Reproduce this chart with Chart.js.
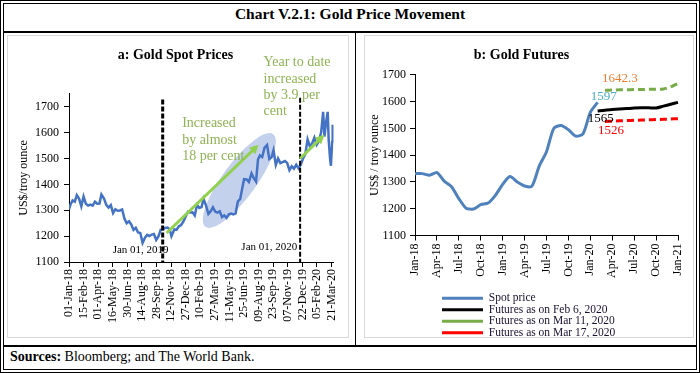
<!DOCTYPE html>
<html>
<head>
<meta charset="utf-8">
<script src="https://cdn.jsdelivr.net/npm/chart.js@4.4.0/dist/chart.umd.min.js"></script>
<style>
  html, body { margin: 0; padding: 0; background: #fff; overflow: hidden; }
  #page { position: relative; width: 700px; height: 373px; font-family: 'Liberation Serif', 'Times New Roman', serif; }
  .abs { position: absolute; }
  #frame { left: 0; top: 0; width: 700px; height: 373px; box-sizing: border-box; border: 4px double #000; }
  #title { left: 0; top: 5px; width: 700px; text-align: center; font-weight: bold; font-size: 15.5px; }
  .hline { height: 2px; background: #000; }
  .panel { border: 1.5px solid #d9d9d9; box-sizing: border-box; }
  #sources { left: 10px; top: 349px; font-size: 14px; }
</style>
</head>
<body>
<div id="page">
  <div id="frame" class="abs"></div>
  <div id="title" class="abs">Chart V.2.1: Gold Price Movement</div>
  <div class="abs hline" style="left:3px; top:31px; width:694px;"></div>
  <div class="abs" style="left:355px; top:32px; width:1px; height:314px; background:#000;"></div>
  <div class="abs hline" style="left:3px; top:345px; width:694px;"></div>
  <div class="abs panel" style="left:7px; top:35px; width:342px; height:303px;"></div>
  <div class="abs panel" style="left:364px; top:35px; width:330px; height:303px;"></div>
  <div class="abs" style="left:8px; top:36px; width:340px; height:301px;"><canvas id="spotChart"></canvas></div>
  <div class="abs" style="left:365px; top:36px; width:346px; height:312px;"><canvas id="futChart"></canvas></div>
  <div id="sources" class="abs"><b>Sources:</b> Bloomberg; and The World Bank.</div>
</div>

<script>
// ---- panel a: gold spot prices (US$/troy ounce) ----
const spotDates = [
  '2018-01-01','2018-01-05','2018-01-12','2018-01-19','2018-01-25','2018-02-01','2018-02-08','2018-02-15',
  '2018-02-22','2018-03-01','2018-03-08','2018-03-15','2018-03-22','2018-03-29','2018-04-05','2018-04-11',
  '2018-04-19','2018-04-26','2018-05-03','2018-05-10','2018-05-17','2018-05-24','2018-05-31','2018-06-07',
  '2018-06-14','2018-06-21','2018-06-28','2018-07-05','2018-07-12','2018-07-19','2018-07-26','2018-08-02',
  '2018-08-09','2018-08-16','2018-08-23','2018-08-30','2018-09-06','2018-09-13','2018-09-20','2018-09-27',
  '2018-10-04','2018-10-11','2018-10-18','2018-10-25','2018-11-01','2018-11-08','2018-11-13','2018-11-22',
  '2018-11-29','2018-12-06','2018-12-13','2018-12-20','2018-12-27',
  '2019-01-03','2019-01-10','2019-01-17','2019-01-24','2019-01-31','2019-02-07','2019-02-14','2019-02-20',
  '2019-02-28','2019-03-07','2019-03-14','2019-03-21','2019-03-28','2019-04-04','2019-04-11','2019-04-18',
  '2019-04-25','2019-05-02','2019-05-09','2019-05-16','2019-05-23','2019-05-30','2019-06-06','2019-06-13',
  '2019-06-20','2019-06-25','2019-07-03','2019-07-10','2019-07-18','2019-07-25','2019-08-01','2019-08-07',
  '2019-08-13','2019-08-20','2019-08-27','2019-09-04','2019-09-11','2019-09-18','2019-09-24','2019-10-01',
  '2019-10-08','2019-10-15','2019-10-22','2019-10-29','2019-11-05','2019-11-12','2019-11-19','2019-11-26',
  '2019-12-03','2019-12-10','2019-12-17','2019-12-24','2019-12-31',
  '2020-01-07','2020-01-14','2020-01-21','2020-01-28','2020-02-04','2020-02-11','2020-02-18','2020-02-24',
  '2020-02-28','2020-03-04','2020-03-09','2020-03-12','2020-03-16','2020-03-19','2020-03-20','2020-03-23',
  '2020-03-24','2020-03-25'
];
const spotPrices = [
  1303,1320,1338,1333,1358,1345,1315,1353,
  1325,1318,1322,1318,1333,1325,1326,1361,
  1345,1321,1310,1320,1289,1304,1298,1299,
  1303,1268,1250,1257,1245,1224,1232,1214,
  1212,1174,1193,1205,1200,1206,1208,1185,
  1199,1225,1226,1232,1233,1225,1200,1226,
  1225,1238,1243,1257,1276,
  1294,1291,1292,1280,1321,1309,1312,1344,
  1317,1286,1296,1311,1295,1291,1296,1274,
  1280,1270,1284,1287,1284,1288,1334,1343,
  1388,1420,1419,1409,1442,1424,1411,1496,
  1512,1506,1541,1552,1498,1505,1532,1475,
  1500,1482,1486,1490,1483,1455,1470,1461,
  1476,1462,1476,1500,1517,
  1574,1547,1558,1581,1553,1567,1602,1680,
  1585,1640,1680,1575,1505,1472,1497,1565,
  1630,1610
];
const spotTicks = [1100, 1200, 1300, 1400, 1500, 1600, 1700];
const dateTickStep = 45;   // days between date labels, first one 01-Jan-18
const dateTickCount = 19;

// ---- panel b: monthly spot and futures curves ----
const months = [
  'Jan-18','Feb-18','Mar-18','Apr-18','May-18','Jun-18','Jul-18','Aug-18','Sep-18','Oct-18','Nov-18','Dec-18',
  'Jan-19','Feb-19','Mar-19','Apr-19','May-19','Jun-19','Jul-19','Aug-19','Sep-19','Oct-19','Nov-19','Dec-19',
  'Jan-20','Feb-20','Mar-20','Apr-20','May-20','Jun-20','Jul-20','Aug-20','Sep-20','Oct-20','Nov-20','Dec-20',
  'Jan-21'
];
const spotMonthly = [1331,1331,1325,1335,1303,1282,1238,1202,1199,1215,1221,1250,
                     1291,1320,1300,1285,1284,1359,1413,1500,1511,1495,1471,1480,
                     1560,1597];
const futuresFeb6 = [1565,1568,1570,1572,1574,1576,1577,1577,1576,1583,1590,1597];   // Feb-20 .. Jan-21
const futuresMar11 = [1642.3,1643,1644,1644,1645,1645,1646,1646,1647,1655,1668];     // Mar-20 .. Jan-21
const futuresMar17 = [1526,1527,1528,1529,1530,1531,1532,1533,1534,1535,1536];       // Mar-20 .. Jan-21

const serif = "'Liberation Serif', 'Times New Roman', serif";
const monNames = ['Jan','Feb','Mar','Apr','May','Jun','Jul','Aug','Sep','Oct','Nov','Dec'];
const day0 = Date.parse('2018-01-01');
const dayOf = s => (Date.parse(s) - day0) / 864e5;

function dayLabel(v) {
  const d = new Date(day0 + v * 864e5);
  const dd = String(d.getUTCDate()).padStart(2, '0');
  return dd + '-' + monNames[d.getUTCMonth()] + '-' + String(d.getUTCFullYear()).slice(2);
}

// annotation shapes for panel a, in (day, price) units
const ellipseEnds = [[421, 1236], [630, 1594]];
const arrows = [[[301, 1212], [585, 1553]], [[713, 1500], [788, 1592]]];
const markers = [
  { day: 289, top: 1728, width: 3, dash: [5, 2] },
  { day: 713, top: 1735, width: 2, dash: [5, 2] }
];
const greenNotes = [
  { day: 349, price: 1635, lines: ['Increased', 'by almost', '18 per cent'] },
  { day: 600, price: 1871, lines: ['Year to date', 'increased', 'by 3.9 per', 'cent'] }
];
const dateNotes = [
  { day: 221, price: 1146, text: 'Jan 01, 2019' },
  { day: 618, price: 1159, text: 'Jan 01, 2020' }
];

const spotAnnotations = {
  id: 'spotAnnotations',
  beforeDatasetsDraw(chart) {
    const { ctx, scales: { x, y } } = chart;
    const [a, b] = ellipseEnds.map(p => [x.getPixelForValue(p[0]), y.getPixelForValue(p[1])]);
    ctx.save();
    ctx.translate((a[0] + b[0]) / 2, (a[1] + b[1]) / 2);
    ctx.rotate(Math.atan2(b[1] - a[1], b[0] - a[0]));
    ctx.beginPath();
    ctx.ellipse(0, 0, Math.hypot(b[0] - a[0], b[1] - a[1]) / 2, 17, 0, 0, Math.PI * 2);
    ctx.fillStyle = 'rgba(186,201,233,0.85)';
    ctx.fill();
    ctx.restore();
  },
  afterDatasetsDraw(chart) {
    const { ctx, scales: { x, y } } = chart;
    ctx.save();
    // dashed year markers
    markers.forEach(m => {
      const px = x.getPixelForValue(m.day);
      ctx.beginPath();
      ctx.setLineDash(m.dash);
      ctx.lineWidth = m.width;
      ctx.strokeStyle = '#000';
      ctx.moveTo(px, y.getPixelForValue(m.top));
      ctx.lineTo(px, y.getPixelForValue(1100));
      ctx.stroke();
    });
    ctx.setLineDash([]);
    // green arrows
    arrows.forEach(([p, q]) => {
      const x1 = x.getPixelForValue(p[0]), y1 = y.getPixelForValue(p[1]);
      const x2 = x.getPixelForValue(q[0]), y2 = y.getPixelForValue(q[1]);
      const ang = Math.atan2(y2 - y1, x2 - x1);
      ctx.strokeStyle = '#92D050';
      ctx.fillStyle = '#92D050';
      ctx.lineWidth = 3;
      ctx.beginPath();
      ctx.moveTo(x1, y1);
      ctx.lineTo(x2 - 6 * Math.cos(ang), y2 - 6 * Math.sin(ang));
      ctx.stroke();
      ctx.beginPath();
      ctx.moveTo(x2, y2);
      ctx.lineTo(x2 - 9 * Math.cos(ang) + 4.5 * Math.sin(ang), y2 - 9 * Math.sin(ang) - 4.5 * Math.cos(ang));
      ctx.lineTo(x2 - 9 * Math.cos(ang) - 4.5 * Math.sin(ang), y2 - 9 * Math.sin(ang) + 4.5 * Math.cos(ang));
      ctx.closePath();
      ctx.fill();
    });
    // notes
    ctx.textBaseline = 'middle';
    ctx.font = '14px ' + serif;
    ctx.fillStyle = '#8DB352';
    ctx.textAlign = 'left';
    greenNotes.forEach(n => {
      const px = x.getPixelForValue(n.day), py = y.getPixelForValue(n.price);
      n.lines.forEach((t, i) => ctx.fillText(t, px, py + i * 16.4));
    });
    ctx.font = '11px ' + serif;
    ctx.fillStyle = '#000';
    ctx.textAlign = 'center';
    dateNotes.forEach(n => ctx.fillText(n.text, x.getPixelForValue(n.day), y.getPixelForValue(n.price)));
    ctx.restore();
  }
};

const axisFont = { family: serif, size: 12 };
const tickGrid = { display: true, drawOnChartArea: false, drawTicks: true, tickLength: 5, color: '#000' };

new Chart(document.getElementById('spotChart'), {
  type: 'line',
  data: {
    datasets: [{
      label: 'Spot',
      data: spotDates.map((d, i) => ({ x: dayOf(d), y: spotPrices[i] })),
      borderColor: '#4472C4',
      borderWidth: 2.5,
      pointRadius: 0,
      tension: 0
    }]
  },
  options: {
    responsive: true,
    maintainAspectRatio: false,
    animation: false,
    layout: { padding: { left: 0, right: 5, top: 0, bottom: 0 } },
    plugins: {
      legend: { display: false },
      tooltip: { enabled: false },
      title: {
        display: true,
        text: 'a: Gold Spot Prices',
        color: '#000',
        font: { family: serif, size: 14, weight: 'bold' },
        padding: { top: 11, bottom: 30 }
      }
    },
    scales: {
      x: {
        type: 'linear',
        min: 0,
        max: 816,
        border: { color: '#000', width: 1 },
        grid: tickGrid,
        afterBuildTicks: s => {
          s.ticks = Array.from({ length: dateTickCount }, (_, i) => ({ value: i * dateTickStep }));
        },
        afterFit: s => { s.height = 75; },
        ticks: {
          autoSkip: false,
          minRotation: 90,
          maxRotation: 90,
          padding: 2,
          color: '#000',
          font: axisFont,
          callback: v => dayLabel(v)
        }
      },
      y: {
        min: 1100,
        max: 1750,
        border: { color: '#000', width: 1 },
        grid: tickGrid,
        afterBuildTicks: s => { s.ticks = spotTicks.map(v => ({ value: v })); },
        afterFit: s => { s.width = 61; },
        title: { display: true, text: 'US$/troy ounce', color: '#000', font: axisFont, padding: { top: 9, bottom: 2 } },
        ticks: { padding: 5, color: '#000', font: axisFont, callback: v => String(v) }
      }
    }
  },
  plugins: [spotAnnotations]
});

// ---- panel b ----
const lead = n => Array(n).fill(null);
const valueLabels = [
  { ds: 0, idx: 25, text: String(spotMonthly[25]), dx: 6, dy: -6, color: '#4BACC6' },
  { ds: 2, idx: 26, text: futuresMar11[0].toFixed(1), dx: 15, dy: -12, color: '#ED7D31' },
  { ds: 1, idx: 25, text: String(futuresFeb6[0]), dx: 3, dy: 8, color: '#000' },
  { ds: 3, idx: 26, text: String(futuresMar17[0]), dx: 6, dy: 9, color: '#FF0000' }
];

const futureLabels = {
  id: 'futureLabels',
  afterLayout(chart) {
    // legend block sits left-aligned a little right of the y axis
    chart.legend.left = chart.chartArea.left + 27;
  },
  afterDatasetsDraw(chart) {
    const { ctx } = chart;
    ctx.save();
    ctx.font = '13px ' + serif;
    ctx.textAlign = 'center';
    ctx.textBaseline = 'middle';
    valueLabels.forEach(l => {
      const pt = chart.getDatasetMeta(l.ds).data[l.idx];
      ctx.fillStyle = l.color;
      ctx.fillText(l.text, pt.x + l.dx, pt.y + l.dy);
    });
    ctx.restore();
  }
};

new Chart(document.getElementById('futChart'), {
  type: 'line',
  data: {
    labels: months,
    datasets: [
      { label: 'Spot price', data: spotMonthly, borderColor: '#4F81BD', borderWidth: 3 },
      { label: 'Futures as on Feb 6, 2020', data: lead(25).concat(futuresFeb6), borderColor: '#000000', borderWidth: 3 },
      { label: 'Futures as on Mar 11, 2020', data: lead(26).concat(futuresMar11), borderColor: '#77AC48', borderWidth: 3, borderDash: [7, 4] },
      { label: 'Futures as on Mar 17, 2020', data: lead(26).concat(futuresMar17), borderColor: '#FF0000', borderWidth: 3, borderDash: [7, 4] }
    ]
  },
  options: {
    responsive: true,
    maintainAspectRatio: false,
    animation: false,
    elements: { point: { radius: 0 }, line: { tension: 0.25 } },
    layout: { padding: { left: 0, right: 33, top: 0, bottom: 11 } },
    plugins: {
      tooltip: { enabled: false },
      title: {
        display: true,
        text: 'b: Gold Futures',
        color: '#000',
        font: { family: serif, size: 14, weight: 'bold' },
        padding: { top: 11, bottom: 11 }
      },
      legend: {
        position: 'bottom',
        align: 'start',
        labels: {
          usePointStyle: true,
          pointStyle: 'line',
          pointStyleWidth: 41,
          boxWidth: 41,
          padding: 0,
          color: '#1a1030',
          font: { family: serif, size: 11.5 }
        }
      }
    },
    scales: {
      x: {
        border: { color: '#000', width: 1 },
        grid: tickGrid,
        afterFit: s => { s.height = 57; },
        ticks: {
          autoSkip: false,
          minRotation: 90,
          maxRotation: 90,
          padding: 3,
          color: '#000',
          font: axisFont,
          callback: function (v, i) { return i % 3 === 0 ? this.getLabelForValue(v) : null; }
        }
      },
      y: {
        min: 1100,
        max: 1700,
        border: { color: '#000', width: 1 },
        grid: tickGrid,
        afterFit: s => { s.width = 50; },
        title: { display: true, text: 'US$ / troy ounce', color: '#000', font: axisFont, padding: { top: 3, bottom: 2 } },
        ticks: { stepSize: 100, padding: 4, color: '#000', font: axisFont, callback: v => String(v) }
      }
    }
  },
  plugins: [futureLabels]
});
</script>
</body>
</html>
